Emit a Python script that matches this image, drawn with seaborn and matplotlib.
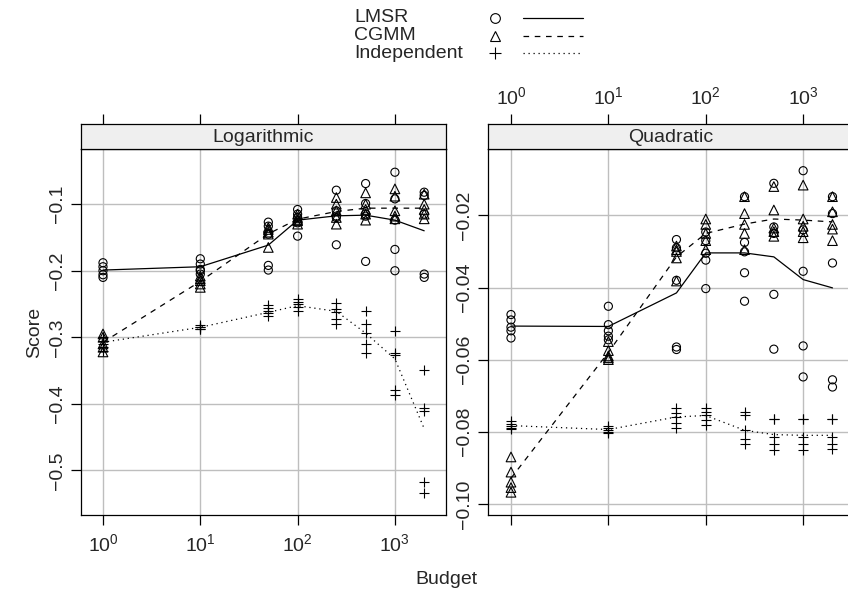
import numpy as np
import pandas as pd
import matplotlib
matplotlib.use("Agg")
import matplotlib.pyplot as plt
import seaborn as sns
from matplotlib.lines import Line2D
from matplotlib.ticker import FixedLocator, NullLocator, FuncFormatter

# ---------------- data ----------------
budgets = [1, 10, 50, 100, 250, 500, 1000, 2000]
methods = ["LMSR", "CGMM", "Independent"]
panels = ["Logarithmic", "Quadratic"]

log_lmsr = [[-0.188, -0.194, -0.200, -0.206, -0.210],
            [-0.182, -0.190, -0.198, -0.200, -0.205],
            [-0.127, -0.133, -0.145, -0.192, -0.199],
            [-0.108, -0.115, -0.120, -0.128, -0.148],
            [-0.079, -0.110, -0.118, -0.120, -0.161],
            [-0.069, -0.099, -0.115, -0.118, -0.186],
            [-0.052, -0.092, -0.124, -0.168, -0.200],
            [-0.082, -0.087, -0.115, -0.205, -0.210]]
log_cgmm = [[-0.295, -0.300, -0.310, -0.315, -0.322],
            [-0.208, -0.212, -0.215, -0.220, -0.225],
            [-0.135, -0.138, -0.142, -0.145, -0.165],
            [-0.115, -0.120, -0.123, -0.125, -0.130],
            [-0.090, -0.100, -0.110, -0.120, -0.130],
            [-0.083, -0.100, -0.108, -0.115, -0.124],
            [-0.077, -0.088, -0.110, -0.118, -0.122],
            [-0.085, -0.100, -0.108, -0.115, -0.122]]
log_ind = [[-0.300, -0.305, -0.310, -0.315, -0.320],
           [-0.282, -0.284, -0.285, -0.287, -0.288],
           [-0.252, -0.256, -0.260, -0.264, -0.268],
           [-0.243, -0.247, -0.250, -0.255, -0.260],
           [-0.248, -0.258, -0.262, -0.272, -0.280],
           [-0.260, -0.280, -0.293, -0.310, -0.323],
           [-0.290, -0.323, -0.327, -0.379, -0.386],
           [-0.349, -0.406, -0.410, -0.517, -0.534]]

log_lmsr_line = [-0.199, -0.194, -0.1615, -0.124, -0.1175, -0.1165, -0.124, -0.140]
log_cgmm_line = [-0.3075, -0.216, -0.1446, -0.1225, -0.111, -0.106, -0.106, -0.106]
log_ind_line = [-0.3075, -0.285, -0.2625, -0.2525, -0.261, -0.2937, -0.3325, -0.4373]

quad_lmsr = [[-0.0475, -0.0490, -0.0510, -0.0520, -0.0540],
             [-0.0452, -0.0503, -0.0520, -0.0535, -0.0545],
             [-0.0267, -0.0290, -0.0380, -0.0565, -0.0572],
             [-0.0246, -0.0270, -0.0305, -0.0324, -0.0403],
             [-0.0148, -0.0275, -0.0301, -0.0359, -0.0438],
             [-0.0111, -0.0232, -0.0250, -0.0419, -0.0571],
             [-0.0076, -0.0240, -0.0355, -0.0562, -0.0648],
             [-0.0148, -0.0195, -0.0332, -0.0656, -0.0676]]
quad_cgmm = [[-0.0870, -0.0912, -0.0940, -0.0955, -0.0968],
             [-0.0550, -0.0575, -0.0590, -0.0595, -0.0600],
             [-0.0285, -0.0295, -0.0300, -0.0318, -0.0382],
             [-0.0210, -0.0225, -0.0250, -0.0270, -0.0295],
             [-0.0148, -0.0195, -0.0225, -0.0250, -0.0295],
             [-0.0120, -0.0185, -0.0235, -0.0245, -0.0258],
             [-0.0116, -0.0210, -0.0230, -0.0245, -0.0262],
             [-0.0148, -0.0190, -0.0225, -0.0238, -0.0270]]
quad_ind = [[-0.0770, -0.0778, -0.0785, -0.0790, -0.0792],
            [-0.0785, -0.0790, -0.0795, -0.0800, -0.0803],
            [-0.0733, -0.0748, -0.0760, -0.0775, -0.0790],
            [-0.0733, -0.0745, -0.0755, -0.0768, -0.0780],
            [-0.0746, -0.0755, -0.0796, -0.0820, -0.0833],
            [-0.0764, -0.0766, -0.0815, -0.0833, -0.0852],
            [-0.0764, -0.0766, -0.0815, -0.0833, -0.0850],
            [-0.0764, -0.0766, -0.0815, -0.0833, -0.0848]]

quad_lmsr_line = [-0.0507, -0.0508, -0.0415, -0.0304, -0.0304, -0.0315, -0.0378, -0.0401]
quad_cgmm_line = [-0.0929, -0.058, -0.0315, -0.025, -0.0224, -0.021, -0.0213, -0.0218]
quad_ind_line = [-0.0783, -0.0794, -0.0759, -0.0755, -0.0796, -0.0808, -0.081, -0.081]

log_yticks = [-0.5, -0.4, -0.3, -0.2, -0.1]
quad_yticks = [-0.10, -0.08, -0.06, -0.04, -0.02]
xticks = [1, 10, 100, 1000]
xtick_labels = [r"$10^{0}$", r"$10^{1}$", r"$10^{2}$", r"$10^{3}$"]

# ---------------- tables ----------------
points = {
    "Logarithmic": {"LMSR": log_lmsr, "CGMM": log_cgmm, "Independent": log_ind},
    "Quadratic": {"LMSR": quad_lmsr, "CGMM": quad_cgmm, "Independent": quad_ind},
}
lines = {
    "Logarithmic": {"LMSR": log_lmsr_line, "CGMM": log_cgmm_line, "Independent": log_ind_line},
    "Quadratic": {"LMSR": quad_lmsr_line, "CGMM": quad_cgmm_line, "Independent": quad_ind_line},
}
rows = []
for p in panels:
    for m in methods:
        for b, vals in zip(budgets, points[p][m]):
            for v in vals:
                rows.append((p, m, b, v))
pts = pd.DataFrame(rows, columns=["panel", "method", "budget", "score"])
rows = []
for p in panels:
    for m in methods:
        for b, v in zip(budgets, lines[p][m]):
            rows.append((p, m, b, v))
lns = pd.DataFrame(rows, columns=["panel", "method", "budget", "score"])

# ---------------- style ----------------
sns.set_theme(style="white")
plt.rcParams["font.family"] = ["Liberation Sans", "DejaVu Sans"]
plt.rcParams["mathtext.fontset"] = "custom"
plt.rcParams["mathtext.rm"] = "Liberation Sans"
plt.rcParams["mathtext.it"] = "Liberation Sans:italic"
plt.rcParams["mathtext.bf"] = "Liberation Sans:bold"
FS = 14

W, H = 848, 592
fig = plt.figure(figsize=(W / 100, H / 100), dpi=100)
fig.patch.set_facecolor("white")


def fx(x):
    return x / W


def fy(y):
    return 1 - y / H


marker_kw = {
    "LMSR": dict(marker="o", s=34, facecolor="none", edgecolor="black", linewidth=0.8),
    "CGMM": dict(marker="^", s=48, facecolor="none", edgecolor="black", linewidth=0.8),
    "Independent": dict(marker="+", s=55, color="black", linewidth=0.8),
}
line_style = {"LMSR": "-", "CGMM": (0, (4.5, 4.5)), "Independent": (0, (1, 3))}

panel_px = {
    "Logarithmic": dict(x0=81, x1=446, lo=-0.226, hi=3.525, ylim=(-0.567, -0.0171), yt=log_yticks,
                        yfmt=lambda v, _: f"{v:.1f}".replace("-", "\u2212"), toplab=False, botlab=True),
    "Quadratic": dict(x0=488, x1=854, lo=-0.236, hi=3.522, ylim=(-0.1031, -0.00158), yt=quad_yticks,
                      yfmt=lambda v, _: f"{v:.2f}".replace("-", "\u2212"), toplab=True, botlab=False),
}

ptop, pbot, stop = 149, 515, 123.5
for p in panels:
    c = panel_px[p]
    ax = fig.add_axes([fx(c["x0"]), fy(pbot), fx(c["x1"] - c["x0"]), (pbot - ptop) / H])
    ax.set_xscale("log")
    sub = pts[pts.panel == p]
    subl = lns[lns.panel == p]
    for m in methods:
        sns.lineplot(data=subl[subl.method == m], x="budget", y="score", ax=ax, color="black",
                     linestyle=line_style[m], linewidth=0.9, estimator=None, errorbar=None, zorder=3)
        sns.scatterplot(data=sub[sub.method == m], x="budget", y="score", ax=ax, zorder=4,
                        **marker_kw[m])
    ax.set_xlim(10 ** c["lo"], 10 ** c["hi"])
    ax.set_ylim(*c["ylim"])
    ax.xaxis.set_major_locator(FixedLocator(xticks))
    ax.xaxis.set_minor_locator(NullLocator())
    ax.set_xticklabels(xtick_labels if c["botlab"] else [""] * 4)
    ax.yaxis.set_major_locator(FixedLocator(c["yt"]))
    ax.yaxis.set_major_formatter(FuncFormatter(c["yfmt"]))
    ax.grid(True, color="#bebebe", linewidth=1.0, zorder=0)
    ax.set_axisbelow(True)
    ax.set_xlabel("")
    ax.set_ylabel("")
    ax.tick_params(axis="both", which="major", direction="out", length=7, width=0.9,
                   color="black", labelsize=FS, pad=4)
    ax.tick_params(axis="x", bottom=True, top=False, pad=6)
    ax.tick_params(axis="y", left=True, right=False, labelrotation=90)
    for t in ax.get_yticklabels():
        t.set_va("center")
    for s in ax.spines.values():
        s.set_color("black")
        s.set_linewidth(0.9)
    if ax.get_legend():
        ax.get_legend().remove()

    # strip
    sa = fig.add_axes([fx(c["x0"]), fy(ptop), fx(c["x1"] - c["x0"]), (ptop - stop) / H])
    sa.set_facecolor("#efefef")
    sa.set_xscale("log")
    sa.set_xlim(10 ** c["lo"], 10 ** c["hi"])
    sa.xaxis.set_major_locator(FixedLocator(xticks))
    sa.xaxis.set_minor_locator(NullLocator())
    sa.set_xticklabels(xtick_labels if c["toplab"] else [""] * 4)
    sa.set_yticks([])
    sa.tick_params(axis="x", bottom=False, top=True, labelbottom=False, labeltop=c["toplab"],
                   direction="out", length=7, width=0.9, color="black", labelsize=FS, pad=4)
    for s in sa.spines.values():
        s.set_color("black")
        s.set_linewidth(0.9)
    sa.text(0.5, 0.45, p, transform=sa.transAxes, ha="center", va="center", fontsize=FS)

# axis labels
fig.text(fx(35), fy(332), "Score", rotation=90, ha="center", va="center", fontsize=FS)
fig.text(fx(446), fy(580), "Budget", ha="center", va="center", fontsize=FS)

# legend
leg_y = [18, 36, 53]
for m, yy in zip(methods, leg_y):
    fig.text(fx(354), fy(yy), m, ha="left", va="center", fontsize=FS)
    mk = marker_kw[m]
    if mk["marker"] == "+":
        fig.add_artist(Line2D([fx(495)], [fy(yy)], marker="+", markersize=9, color="black",
                              markeredgewidth=0.8, linestyle="none", transform=fig.transFigure))
    else:
        fig.add_artist(Line2D([fx(495)], [fy(yy)], marker=mk["marker"], markersize=7,
                              markerfacecolor="none", markeredgecolor="black", markeredgewidth=0.8,
                              linestyle="none", transform=fig.transFigure))
    fig.add_artist(Line2D([fx(523), fx(583)], [fy(yy), fy(yy)], color="black",
                          linestyle=line_style[m], linewidth=0.9, transform=fig.transFigure))

fig.savefig("out.png", dpi=100, facecolor="white")
